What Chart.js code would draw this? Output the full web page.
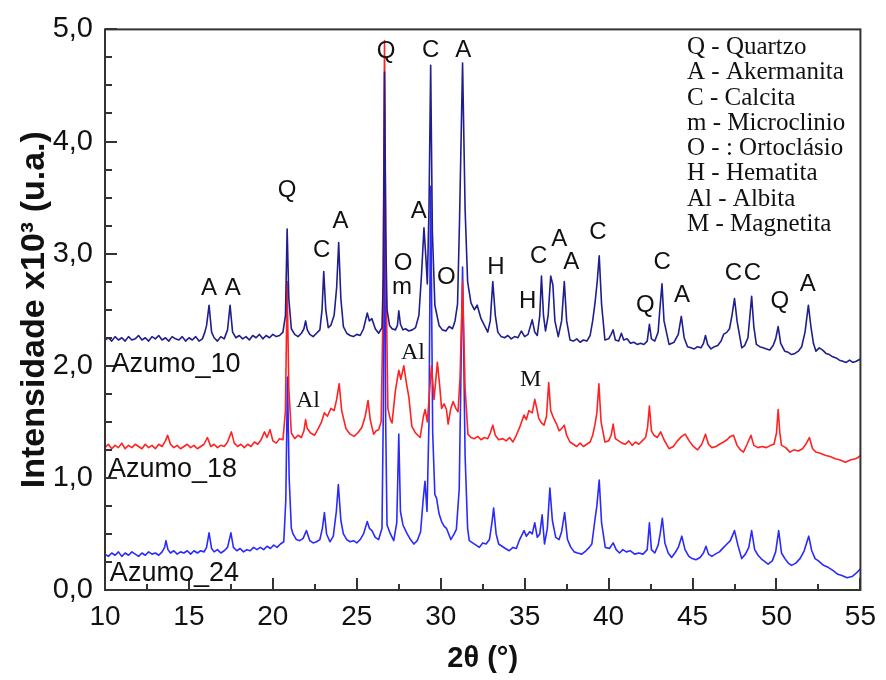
<!DOCTYPE html>
<html>
<head>
<meta charset="utf-8">
<script src="https://cdn.jsdelivr.net/npm/chart.js@4.4.1/dist/chart.umd.min.js"></script>
<style>
  html, body { margin: 0; padding: 0; background: #fff; }
  #wrap { width: 886px; height: 680px; }
</style>
</head>
<body>
<div id="wrap"><canvas id="xrd"></canvas></div>
<script>
// ---- data: [2theta, intensity x10^3] ----
const azumo10 = [
  [10.0,2.23],[10.2,2.25],[10.4,2.22],[10.6,2.26],[10.8,2.23],[11.0,2.25],[11.2,2.22],[11.4,2.26],[11.6,2.23],[11.8,2.24],
  [12.0,2.27],[12.2,2.23],[12.4,2.25],[12.6,2.22],[12.8,2.26],[13.0,2.24],[13.2,2.27],[13.4,2.23],[13.6,2.25],[13.8,2.22],
  [14.0,2.26],[14.2,2.24],[14.4,2.23],[14.6,2.26],[14.8,2.22],[15.0,2.25],[15.2,2.23],[15.4,2.26],[15.6,2.22],[15.8,2.24],
  [15.95,2.30],[16.05,2.36],[16.2,2.54],[16.35,2.30],[16.5,2.25],[16.7,2.22],[16.9,2.26],[17.1,2.24],[17.3,2.32],[17.45,2.54],
  [17.6,2.30],[17.8,2.25],[18.0,2.27],[18.2,2.24],[18.4,2.26],[18.6,2.23],[18.8,2.27],[19.0,2.25],[19.2,2.28],[19.4,2.24],
  [19.6,2.27],[19.8,2.25],[20.0,2.28],[20.2,2.26],[20.4,2.27],[20.6,2.30],[20.75,2.45],[20.85,3.22],[20.95,2.60],[21.1,2.33],
  [21.3,2.28],[21.5,2.26],[21.7,2.29],[21.85,2.33],[21.95,2.40],[22.05,2.32],[22.2,2.28],[22.4,2.26],[22.6,2.29],[22.8,2.32],
  [22.93,2.50],[23.03,2.84],[23.15,2.50],[23.3,2.34],[23.45,2.36],[23.65,2.45],[23.8,2.70],[23.92,3.10],[24.05,2.60],[24.2,2.35],
  [24.4,2.29],[24.6,2.27],[24.8,2.26],[25.0,2.28],[25.2,2.27],[25.4,2.33],[25.62,2.47],[25.75,2.40],[25.9,2.42],[26.1,2.33],
  [26.3,2.29],[26.5,2.34],[26.58,2.80],[26.65,4.62],[26.72,3.20],[26.8,2.50],[26.95,2.36],[27.1,2.33],[27.3,2.32],[27.42,2.36],
  [27.5,2.49],[27.6,2.37],[27.75,2.32],[27.9,2.33],[28.1,2.31],[28.3,2.32],[28.5,2.34],[28.7,2.45],[28.85,2.80],[29.0,3.23],
  [29.12,2.95],[29.2,2.73],[29.3,3.40],[29.4,4.68],[29.5,3.20],[29.65,2.54],[29.9,2.36],[30.1,2.32],[30.3,2.31],[30.5,2.35],
  [30.7,2.33],[30.85,2.40],[31.0,2.55],[31.12,3.30],[31.3,4.70],[31.45,3.40],[31.6,2.75],[31.8,2.56],[32.0,2.50],[32.17,2.54],
  [32.4,2.42],[32.6,2.36],[32.8,2.30],[32.95,2.40],[33.1,2.75],[33.25,2.45],[33.4,2.30],[33.6,2.26],[33.8,2.25],[34.0,2.27],
  [34.2,2.24],[34.4,2.26],[34.6,2.25],[34.8,2.31],[35.0,2.26],[35.2,2.28],[35.45,2.41],[35.6,2.30],[35.75,2.27],[35.9,2.45],
  [36.0,2.80],[36.12,2.45],[36.24,2.31],[36.4,2.45],[36.55,2.80],[36.68,2.72],[36.8,2.40],[37.0,2.26],[37.2,2.40],[37.36,2.75],
  [37.5,2.40],[37.7,2.23],[37.9,2.22],[38.1,2.24],[38.3,2.21],[38.5,2.23],[38.7,2.22],[38.9,2.27],[39.05,2.40],[39.19,2.56],
  [39.32,2.75],[39.44,2.98],[39.58,2.55],[39.78,2.23],[40.0,2.24],[40.15,2.28],[40.27,2.32],[40.4,2.23],[40.6,2.22],[40.76,2.29],
  [40.9,2.23],[41.1,2.24],[41.3,2.20],[41.5,2.21],[41.7,2.19],[41.9,2.20],[42.1,2.19],[42.3,2.22],[42.43,2.37],[42.55,2.24],
  [42.75,2.22],[42.95,2.30],[43.05,2.50],[43.18,2.73],[43.3,2.40],[43.6,2.19],[43.9,2.21],[44.15,2.28],[44.33,2.44],[44.5,2.25],
  [44.7,2.17],[44.9,2.16],[45.1,2.15],[45.3,2.17],[45.5,2.16],[45.65,2.20],[45.77,2.27],[45.9,2.19],[46.1,2.15],[46.3,2.17],
  [46.5,2.18],[46.7,2.22],[46.85,2.28],[47.05,2.30],[47.2,2.33],[47.35,2.45],[47.5,2.60],[47.65,2.40],[47.93,2.16],[48.1,2.18],
  [48.3,2.25],[48.52,2.62],[48.65,2.35],[48.8,2.19],[49.0,2.17],[49.2,2.16],[49.4,2.15],[49.6,2.14],[49.8,2.18],[49.95,2.24],
  [50.1,2.35],[50.25,2.20],[50.49,2.13],[50.7,2.12],[50.9,2.10],[51.1,2.11],[51.3,2.13],[51.5,2.17],[51.7,2.30],[51.9,2.54],
  [52.05,2.35],[52.2,2.20],[52.35,2.13],[52.55,2.16],[52.75,2.14],[52.95,2.11],[53.15,2.10],[53.35,2.08],[53.55,2.07],[53.75,2.05],
  [53.95,2.04],[54.15,2.03],[54.35,2.05],[54.55,2.03],[54.75,2.04],[55.0,2.06]
];

const azumo18 = [
  [10.0,1.27],[10.2,1.30],[10.4,1.26],[10.6,1.29],[10.8,1.27],[11.0,1.31],[11.2,1.26],[11.4,1.29],[11.6,1.27],[11.8,1.30],
  [12.0,1.28],[12.2,1.26],[12.4,1.30],[12.6,1.27],[12.8,1.29],[13.0,1.26],[13.2,1.30],[13.4,1.28],[13.6,1.33],[13.73,1.38],
  [13.9,1.30],[14.1,1.27],[14.3,1.29],[14.5,1.26],[14.7,1.28],[14.9,1.30],[15.1,1.27],[15.3,1.29],[15.5,1.26],[15.7,1.28],
  [15.9,1.30],[16.1,1.36],[16.3,1.28],[16.5,1.30],[16.7,1.27],[16.9,1.29],[17.1,1.28],[17.3,1.32],[17.53,1.41],[17.7,1.31],
  [17.9,1.28],[18.1,1.30],[18.3,1.27],[18.5,1.30],[18.7,1.28],[18.9,1.32],[19.1,1.30],[19.3,1.34],[19.5,1.41],[19.65,1.36],
  [19.83,1.43],[20.0,1.33],[20.2,1.31],[20.4,1.35],[20.6,1.34],[20.75,1.60],[20.85,2.75],[20.95,1.80],[21.1,1.40],[21.3,1.35],
  [21.5,1.38],[21.7,1.36],[21.85,1.42],[21.95,1.52],[22.05,1.44],[22.25,1.40],[22.48,1.38],[22.7,1.44],[22.9,1.50],[23.07,1.58],
  [23.25,1.55],[23.46,1.62],[23.65,1.60],[23.8,1.70],[23.95,1.84],[24.1,1.60],[24.35,1.44],[24.6,1.39],[24.84,1.37],[25.05,1.40],
  [25.3,1.45],[25.5,1.55],[25.67,1.69],[25.8,1.52],[26.0,1.39],[26.15,1.42],[26.3,1.43],[26.45,1.50],[26.56,2.50],[26.65,4.90],
  [26.74,2.80],[26.85,1.62],[27.0,1.52],[27.1,1.49],[27.3,1.78],[27.5,1.96],[27.62,1.88],[27.8,2.00],[27.95,1.85],[28.1,1.72],
  [28.28,1.46],[28.5,1.40],[28.77,1.36],[28.97,1.55],[29.07,1.61],[29.2,1.50],[29.35,1.80],[29.45,2.00],[29.6,1.70],[29.8,2.03],
  [29.95,1.80],[30.05,1.62],[30.2,1.66],[30.34,1.61],[30.44,1.48],[30.6,1.62],[30.74,1.68],[30.9,1.62],[31.03,1.59],[31.15,1.90],
  [31.3,2.75],[31.45,1.80],[31.62,1.39],[31.8,1.36],[32.0,1.35],[32.2,1.37],[32.4,1.34],[32.6,1.36],[32.8,1.35],[32.95,1.40],
  [33.1,1.47],[33.25,1.38],[33.45,1.34],[33.7,1.35],[33.9,1.33],[34.1,1.36],[34.3,1.32],[34.5,1.38],[34.7,1.45],[34.96,1.56],
  [35.1,1.52],[35.25,1.60],[35.45,1.58],[35.6,1.70],[35.72,1.62],[35.84,1.53],[36.0,1.49],[36.15,1.47],[36.3,1.55],[36.43,1.85],
  [36.55,1.60],[36.73,1.53],[36.9,1.48],[37.05,1.42],[37.2,1.44],[37.36,1.47],[37.5,1.38],[37.7,1.32],[37.9,1.30],[38.1,1.28],
  [38.3,1.31],[38.5,1.28],[38.7,1.30],[38.9,1.32],[39.05,1.38],[39.18,1.47],[39.3,1.58],[39.42,1.84],[39.55,1.50],[39.78,1.32],
  [40.0,1.33],[40.15,1.38],[40.27,1.48],[40.4,1.35],[40.6,1.33],[40.8,1.31],[41.0,1.30],[41.2,1.33],[41.4,1.29],[41.6,1.32],
  [41.8,1.30],[42.0,1.33],[42.2,1.36],[42.32,1.45],[42.43,1.64],[42.55,1.42],[42.7,1.38],[42.9,1.36],[43.1,1.41],[43.3,1.34],
  [43.6,1.26],[43.85,1.28],[44.1,1.33],[44.35,1.37],[44.56,1.39],[44.8,1.33],[45.05,1.28],[45.3,1.25],[45.55,1.30],[45.77,1.39],
  [45.95,1.30],[46.15,1.27],[46.4,1.28],[46.6,1.30],[46.85,1.32],[47.05,1.34],[47.25,1.37],[47.44,1.38],[47.65,1.29],[47.85,1.25],
  [48.03,1.23],[48.25,1.30],[48.48,1.38],[48.65,1.29],[48.9,1.27],[49.15,1.28],[49.4,1.27],[49.65,1.29],[49.85,1.30],[50.0,1.40],
  [50.1,1.61],[50.2,1.40],[50.3,1.29],[50.55,1.27],[50.8,1.23],[51.05,1.25],[51.3,1.24],[51.55,1.26],[51.75,1.30],[51.96,1.36],
  [52.15,1.26],[52.35,1.23],[52.6,1.22],[52.94,1.20],[53.2,1.19],[53.5,1.17],[53.8,1.16],[54.1,1.14],[54.4,1.16],[54.7,1.17],
  [54.85,1.18],[55.0,1.20]
];

const azumo24 = [
  [10.0,0.32],[10.2,0.30],[10.4,0.33],[10.6,0.31],[10.8,0.34],[11.0,0.30],[11.2,0.33],[11.4,0.31],[11.6,0.34],[11.8,0.32],
  [12.0,0.30],[12.2,0.33],[12.4,0.31],[12.6,0.34],[12.8,0.32],[13.0,0.33],[13.2,0.31],[13.4,0.34],[13.55,0.38],[13.63,0.44],
  [13.75,0.36],[13.9,0.33],[14.1,0.35],[14.3,0.32],[14.5,0.34],[14.7,0.33],[14.9,0.35],[15.1,0.32],[15.3,0.35],[15.5,0.33],
  [15.7,0.35],[15.9,0.34],[16.05,0.38],[16.2,0.51],[16.35,0.37],[16.5,0.34],[16.7,0.36],[16.9,0.33],[17.1,0.35],[17.3,0.38],
  [17.5,0.51],[17.65,0.38],[17.85,0.35],[18.05,0.37],[18.25,0.34],[18.45,0.36],[18.65,0.35],[18.85,0.38],[19.05,0.36],[19.25,0.38],
  [19.45,0.36],[19.65,0.39],[19.85,0.37],[20.05,0.40],[20.25,0.38],[20.45,0.41],[20.65,0.43],[20.77,0.80],[20.87,1.90],[20.97,1.00],
  [21.1,0.55],[21.2,0.50],[21.4,0.45],[21.6,0.44],[21.8,0.46],[22.0,0.53],[22.2,0.44],[22.4,0.42],[22.6,0.43],[22.8,0.45],
  [22.95,0.55],[23.07,0.69],[23.2,0.50],[23.4,0.43],[23.6,0.48],[23.78,0.70],[23.9,0.94],[24.05,0.62],[24.2,0.50],[24.4,0.45],
  [24.6,0.43],[24.8,0.44],[25.0,0.42],[25.2,0.45],[25.4,0.50],[25.62,0.61],[25.75,0.55],[25.9,0.53],[26.1,0.47],[26.3,0.45],
  [26.5,0.55],[26.58,1.60],[26.65,3.90],[26.72,1.50],[26.8,0.58],[27.0,0.50],[27.2,0.44],[27.38,0.60],[27.5,1.39],[27.6,0.70],
  [27.75,0.58],[28.0,0.50],[28.2,0.45],[28.4,0.41],[28.6,0.44],[28.8,0.52],[28.95,0.80],[29.06,0.97],[29.18,0.70],[29.3,1.50],
  [29.4,3.60],[29.52,1.40],[29.65,0.85],[29.75,0.82],[29.9,0.68],[30.05,0.61],[30.2,0.57],[30.34,0.55],[30.6,0.45],[30.8,0.50],
  [30.93,0.54],[31.1,0.90],[31.3,2.88],[31.45,1.20],[31.6,0.55],[31.7,0.44],[31.9,0.42],[32.1,0.40],[32.3,0.38],[32.5,0.42],
  [32.7,0.41],[32.9,0.45],[33.05,0.60],[33.15,0.73],[33.3,0.50],[33.45,0.41],[33.65,0.39],[33.85,0.37],[34.08,0.35],[34.3,0.38],
  [34.5,0.37],[34.7,0.45],[34.96,0.53],[35.1,0.48],[35.3,0.52],[35.45,0.50],[35.6,0.60],[35.75,0.47],[35.9,0.50],[36.04,0.67],
  [36.18,0.41],[36.35,0.55],[36.5,0.91],[36.65,0.62],[36.85,0.47],[37.05,0.45],[37.2,0.52],[37.38,0.69],[37.55,0.45],[37.75,0.38],
  [37.95,0.34],[38.15,0.33],[38.4,0.32],[38.65,0.35],[38.85,0.38],[39.0,0.41],[39.18,0.62],[39.3,0.75],[39.44,0.98],[39.58,0.60],
  [39.8,0.38],[40.05,0.37],[40.27,0.42],[40.45,0.36],[40.65,0.33],[40.85,0.36],[41.05,0.34],[41.3,0.35],[41.55,0.32],[41.8,0.33],
  [42.05,0.32],[42.3,0.36],[42.43,0.60],[42.55,0.36],[42.75,0.33],[42.95,0.40],[43.07,0.50],[43.2,0.64],[43.35,0.42],[43.55,0.33],
  [43.75,0.29],[43.95,0.33],[44.15,0.38],[44.36,0.48],[44.55,0.36],[44.78,0.30],[44.98,0.28],[45.2,0.27],[45.45,0.29],[45.65,0.33],
  [45.8,0.39],[45.95,0.32],[46.15,0.30],[46.35,0.32],[46.6,0.34],[46.85,0.38],[47.05,0.41],[47.25,0.44],[47.5,0.53],[47.7,0.40],
  [47.93,0.28],[48.15,0.32],[48.35,0.38],[48.52,0.53],[48.7,0.36],[48.9,0.31],[49.15,0.27],[49.5,0.23],[49.75,0.26],[49.95,0.34],
  [50.13,0.53],[50.3,0.33],[50.5,0.28],[50.7,0.24],[50.9,0.22],[51.15,0.24],[51.4,0.28],[51.65,0.35],[51.92,0.48],[52.1,0.35],
  [52.3,0.28],[52.5,0.26],[52.8,0.22],[53.1,0.20],[53.4,0.17],[53.65,0.14],[53.9,0.13],[54.2,0.11],[54.5,0.12],[54.75,0.15],
  [55.0,0.19]
];

const xTicks = [10, 15, 20, 25, 30, 35, 40, 45, 50, 55];
const yTicks = [0, 1, 2, 3, 4, 5];

// phase letters above peaks: [text, 2theta, intensity]
const peakLabels = [
  ['A',16.19,2.69],['A',17.61,2.69],['Q',20.85,3.56],['C',22.91,3.03],['A',24.03,3.29],
  ['Q',26.75,4.80],['C',29.40,4.81],['A',31.34,4.81],['A',28.69,3.38],['O',27.75,2.91],
  ['m',27.69,2.70],['O',30.34,2.79],['H',33.29,2.88],['H',35.18,2.57],['C',35.83,2.98],
  ['A',37.06,3.13],['A',37.77,2.92],['C',39.36,3.19],['Q',42.19,2.54],['C',43.19,2.92],
  ['A',44.37,2.63],['C',47.44,2.82],['C',48.56,2.82],['Q',50.20,2.57],['A',51.86,2.73]
];
const serifLabels = [['Al',22.09,1.69],['Al',28.34,2.12],['M',35.35,1.88]];
const sampleNames = [['Azumo_10',10.38,2.01],['Azumo_18',10.18,1.07],['Azumo_24',10.29,0.15]];
const legendLines = [
  'Q - Quartzo', 'A - Akermanita', 'C - Calcita', 'm - Microclinio',
  'O - : Ortoclásio', 'H - Hematita', 'Al - Albita', 'M - Magnetita'
];

const SANS = "'Liberation Sans', Arial, sans-serif";
const SERIF = "'Liberation Serif', 'Times New Roman', serif";

// frame, inward ticks and all the text annotations
const overlay = {
  id: 'overlay',
  afterDatasetsDraw(chart) {
    const { ctx, chartArea: a, scales: { x, y } } = chart;
    ctx.save();
    ctx.strokeStyle = '#333';
    ctx.lineWidth = 2;
    ctx.beginPath();
    for (let v = 0; v <= 5.001; v += 0.25) {
      const py = Math.round(y.getPixelForValue(v));
      const len = Math.abs(v - Math.round(v)) < 1e-6 ? 12 : 7;
      ctx.moveTo(a.left, py); ctx.lineTo(a.left + len, py);
    }
    for (let v = 10; v <= 55.001; v += 2.5) {
      const px = Math.round(x.getPixelForValue(v));
      const len = v % 5 === 0 ? 12 : 6;
      ctx.moveTo(px, a.bottom); ctx.lineTo(px, a.bottom - len);
    }
    ctx.stroke();
    ctx.strokeRect(a.left, a.top, a.right - a.left, a.bottom - a.top);

    ctx.fillStyle = '#111';
    ctx.textBaseline = 'middle';
    ctx.textAlign = 'center';
    ctx.font = '24px ' + SANS;
    peakLabels.forEach(([t, px, py]) => ctx.fillText(t, x.getPixelForValue(px), y.getPixelForValue(py)));
    ctx.font = '24px ' + SERIF;
    serifLabels.forEach(([t, px, py]) => ctx.fillText(t, x.getPixelForValue(px), y.getPixelForValue(py)));

    ctx.textAlign = 'left';
    ctx.font = '27px ' + SANS;
    sampleNames.forEach(([t, px, py]) => ctx.fillText(t, x.getPixelForValue(px), y.getPixelForValue(py)));

    ctx.font = '25px ' + SERIF;
    const lx = x.getPixelForValue(44.67);
    const ly = y.getPixelForValue(4.84);
    legendLines.forEach((t, i) => ctx.fillText(t, lx, ly + i * 25.3));
    ctx.restore();
  }
};

const line = (label, pts, color) => ({
  label,
  data: pts.map(([tx, ty]) => ({ x: tx, y: ty })),
  borderColor: color,
  borderWidth: 1.6,
  borderJoinStyle: 'round',
  pointRadius: 0,
  tension: 0,
  fill: false
});

new Chart(document.getElementById('xrd'), {
  type: 'line',
  data: {
    datasets: [
      line('Azumo_10', azumo10, '#1e1e8e'),
      line('Azumo_18', azumo18, '#ff2222'),
      line('Azumo_24', azumo24, '#2a2aff')
    ]
  },
  options: {
    responsive: true,
    maintainAspectRatio: false,
    animation: false,
    layout: { padding: { left: 0, right: 18, top: 24, bottom: 0 } },
    plugins: { legend: { display: false }, tooltip: { enabled: false } },
    scales: {
      x: {
        type: 'linear',
        min: 10, max: 55,
        afterBuildTicks: s => { s.ticks = xTicks.map(v => ({ value: v })); },
        afterFit: s => { s.height = 90; },
        grid: { display: false, drawTicks: false, tickLength: 0 },
        border: { display: false },
        ticks: { color: '#111', padding: 10, maxRotation: 0, font: { family: SANS, size: 28 } },
        title: { display: true, text: '2θ (°)', color: '#111', padding: { bottom: 4 },
                 font: { family: SANS, size: 29, weight: 'bold' } }
      },
      y: {
        min: 0, max: 5,
        afterBuildTicks: s => { s.ticks = yTicks.map(v => ({ value: v })); },
        afterFit: s => { s.width = 105; },
        grid: { display: false, drawTicks: false, tickLength: 0 },
        border: { display: false },
        ticks: { color: '#111', padding: 12, font: { family: SANS, size: 29 },
                 callback: v => v.toFixed(1).replace('.', ',') },
        title: { display: true, text: 'Intensidade x10³ (u.a.)', color: '#111', padding: { top: 14 },
                 font: { family: SANS, size: 34, weight: 'bold' } }
      }
    }
  },
  plugins: [overlay]
});
</script>
</body>
</html>
